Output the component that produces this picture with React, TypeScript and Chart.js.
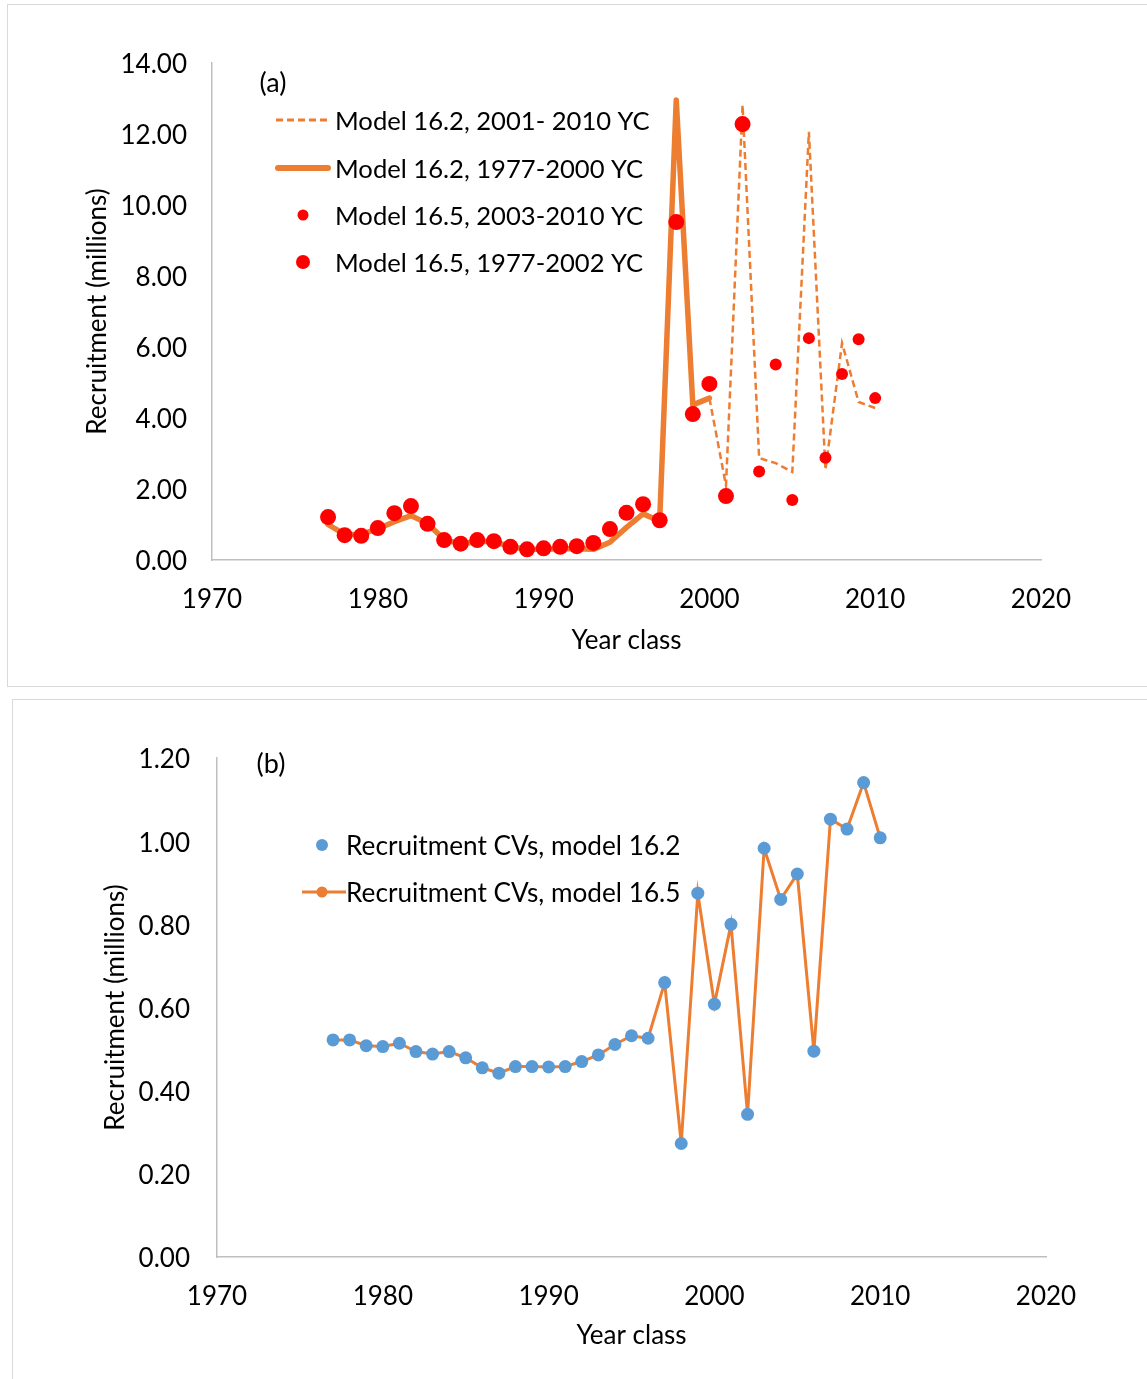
import React, { useEffect, useRef } from "react";
import { Chart, registerables } from "chart.js";

Chart.register(...registerables);

const FONT = "Lato, 'Open Sans', sans-serif";
const ORANGE = "#ED7D31";
const RED = "#FF0000";
const BLUE = "#5B9BD5";
const AXIS = "#BFBFBF";

// ---------- Panel (a) data ----------
const model162Years = [1977, 1978, 1979, 1980, 1981, 1982, 1983, 1984, 1985, 1986, 1987, 1988, 1989, 1990, 1991, 1992, 1993, 1994, 1995, 1996, 1997, 1998, 1999, 2000];
const model162Values = [1.0, 0.72, 0.72, 0.88, 1.08, 1.25, 1.03, 0.58, 0.45, 0.52, 0.52, 0.38, 0.3, 0.3, 0.32, 0.32, 0.3, 0.5, 0.92, 1.3, 1.1, 12.96, 4.37, 4.56];
const model162ProjYears = [2000, 2001, 2002, 2003, 2004, 2005, 2006, 2007, 2008, 2009, 2010];
const model162ProjValues = [4.56, 2.1, 12.82, 2.87, 2.73, 2.48, 12.06, 2.54, 6.11, 4.45, 4.28];
const model165EarlyYears = [1977, 1978, 1979, 1980, 1981, 1982, 1983, 1984, 1985, 1986, 1987, 1988, 1989, 1990, 1991, 1992, 1993, 1994, 1995, 1996, 1997, 1998, 1999, 2000, 2001, 2002];
const model165EarlyValues = [1.21, 0.7, 0.68, 0.9, 1.32, 1.52, 1.02, 0.56, 0.46, 0.56, 0.53, 0.37, 0.3, 0.33, 0.37, 0.39, 0.48, 0.87, 1.33, 1.57, 1.12, 9.52, 4.11, 4.96, 1.8, 12.28];
const model165LateYears = [2003, 2004, 2005, 2006, 2007, 2008, 2009, 2010];
const model165LateValues = [2.49, 5.51, 1.69, 6.25, 2.88, 5.24, 6.22, 4.56];

// ---------- Panel (b) data ----------
const cvYears = [1977, 1978, 1979, 1980, 1981, 1982, 1983, 1984, 1985, 1986, 1987, 1988, 1989, 1990, 1991, 1992, 1993, 1994, 1995, 1996, 1997, 1998, 1999, 2000, 2001, 2002, 2003, 2004, 2005, 2006, 2007, 2008, 2009, 2010];
const cvModel162 = [0.522, 0.522, 0.508, 0.506, 0.514, 0.494, 0.488, 0.494, 0.479, 0.455, 0.442, 0.458, 0.458, 0.457, 0.458, 0.47, 0.486, 0.511, 0.532, 0.526, 0.66, 0.273, 0.875, 0.608, 0.8, 0.343, 0.983, 0.86, 0.921, 0.495, 1.053, 1.029, 1.141, 1.008];
const cvModel165 = [0.522, 0.522, 0.508, 0.506, 0.514, 0.494, 0.488, 0.494, 0.479, 0.455, 0.442, 0.458, 0.458, 0.457, 0.458, 0.47, 0.486, 0.511, 0.532, 0.526, 0.66, 0.273, 0.875, 0.608, 0.8, 0.343, 0.983, 0.86, 0.921, 0.495, 1.053, 1.029, 1.141, 1.008];

// ---------- Axes ----------
const xMin = 1970;
const xMax = 2020;
const xStep = 10;
const yMaxA = 14;
const yStepA = 2;
const yMaxB = 1.2;
const yStepB = 0.2;
const xTitle = "Year class";
const yTitle = "Recruitment (millions)";

const pts = (xs: number[], ys: number[]) => xs.map((x, i) => ({ x, y: ys[i] }));

type LegendItem = { ds: number; kind: "line" | "point" | "linepoint"; y: number; x1: number; x2: number; px: number; r: number; lw?: number };
type Overlay = { label: string; lx: number; ly: number; textX: number; fontSize: number; items: LegendItem[] };

const overlayPlugin = (ov: Overlay) => ({
  id: "overlay",
  afterDraw(chart: any) {
    const ctx = chart.ctx;
    ctx.save();
    ctx.font = `${ov.fontSize}px ${FONT}`;
    ctx.fillStyle = "#000";
    ctx.textBaseline = "middle";
    ctx.textAlign = "center";
    ctx.font = `27px ${FONT}`;
    ctx.fillText(ov.label, ov.lx, ov.ly + 2);
    ctx.font = `${ov.fontSize}px ${FONT}`;
    ctx.textAlign = "left";
    for (const it of ov.items) {
      const ds = chart.data.datasets[it.ds];
      if (it.kind === "line" || it.kind === "linepoint") {
        ctx.save();
        ctx.strokeStyle = ds.borderColor;
        ctx.lineWidth = it.lw ?? ds.borderWidth;
        ctx.setLineDash(ds.borderDash || []);
        ctx.lineCap = ds.borderCapStyle || "butt";
        ctx.beginPath();
        ctx.moveTo(it.x1, it.y);
        ctx.lineTo(it.x2, it.y);
        ctx.stroke();
        ctx.restore();
      }
      if (it.kind === "point" || it.kind === "linepoint") {
        ctx.beginPath();
        ctx.fillStyle = ds.pointBackgroundColor;
        ctx.arc(it.px, it.y, it.r, 0, Math.PI * 2);
        ctx.fill();
      }
      ctx.fillStyle = "#000";
      ctx.fillText(ds.label, ov.textX, it.y + 2);
    }
    ctx.restore();
  },
});

function makeOptions(p: {
  yMax: number; yStep: number; yWidth: number; yTickPad: number; yTitlePad: number;
  xHeight: number; xTickPad: number; xTitlePad: number; padTop: number; padRight: number;
}) {
  const tickFont = { family: FONT, size: 26 };
  return {
    responsive: false,
    animation: false as const,
    devicePixelRatio: 1,
    layout: { padding: { top: p.padTop, right: p.padRight, left: 0, bottom: 0 } },
    plugins: { legend: { display: false }, tooltip: { enabled: false } },
    scales: {
      x: {
        type: "linear" as const,
        min: xMin,
        max: xMax,
        grid: { display: false, drawTicks: false },
        border: { display: true, color: AXIS, width: 1.5 },
        ticks: { stepSize: xStep, color: "#000", font: tickFont, padding: p.xTickPad, callback: (v: any) => String(v), maxRotation: 0 },
        title: { display: true, text: xTitle, color: "#000", font: tickFont, padding: { top: 0, bottom: p.xTitlePad } },
        afterFit: (s: any) => { s.height = p.xHeight; },
      },
      y: {
        type: "linear" as const,
        min: 0,
        max: p.yMax,
        grid: { display: false, drawTicks: false },
        border: { display: true, color: AXIS, width: 1.5 },
        ticks: { stepSize: p.yStep, color: "#000", font: tickFont, padding: p.yTickPad, labelOffset: 2, callback: (v: any) => Number(v).toFixed(2) },
        title: { display: true, text: yTitle, color: "#000", font: tickFont, padding: { top: p.yTitlePad, bottom: 0 } },
        afterFit: (s: any) => { s.width = p.yWidth; },
      },
    },
  };
}

function ChartA() {
  const ref = useRef<HTMLCanvasElement>(null);
  useEffect(() => {
    const chart = new Chart(ref.current!, {
      type: "line",
      data: {
        datasets: [
          { label: "Model 16.2, 2001- 2010 YC", data: pts(model162ProjYears, model162ProjValues), borderColor: ORANGE, borderWidth: 2.5, borderDash: [7, 4], pointRadius: 0, order: 2, tension: 0 },
          { label: "Model 16.2, 1977-2000 YC", data: pts(model162Years, model162Values), borderColor: ORANGE, borderWidth: 5.5, borderCapStyle: "round", borderJoinStyle: "round", pointRadius: 0, order: 1, tension: 0 },
          { label: "Model 16.5, 2003-2010 YC", data: pts(model165LateYears, model165LateValues), showLine: false, pointRadius: 6, pointBackgroundColor: RED, pointBorderWidth: 0, borderColor: RED, order: 0 },
          { label: "Model 16.5, 1977-2002 YC", data: pts(model165EarlyYears, model165EarlyValues), showLine: false, pointRadius: 8, pointBackgroundColor: RED, pointBorderWidth: 0, borderColor: RED, order: 0 },
        ] as any,
      },
      options: makeOptions({ yMax: yMaxA, yStep: yStepA, yWidth: 212, yTickPad: 25, yTitlePad: 82, xHeight: 130, xTickPad: 24, xTitlePad: 34, padTop: 63, padRight: 106 }) as any,
      plugins: [overlayPlugin({
        label: "(a)", lx: 273, ly: 81, textX: 335, fontSize: 25.6,
        items: [
          { ds: 0, kind: "line", y: 120, x1: 276, x2: 330, px: 303, r: 0, lw: 3 },
          { ds: 1, kind: "line", y: 168, x1: 278, x2: 328, px: 303, r: 0, lw: 6 },
          { ds: 2, kind: "point", y: 215, x1: 0, x2: 0, px: 303, r: 5.5 },
          { ds: 3, kind: "point", y: 262, x1: 0, x2: 0, px: 303, r: 7 },
        ],
      })],
    });
    return () => chart.destroy();
  }, []);
  return <canvas ref={ref} width={1147} height={690} style={{ position: "absolute", left: 0, top: 0 }} />;
}

function ChartB() {
  const ref = useRef<HTMLCanvasElement>(null);
  useEffect(() => {
    const chart = new Chart(ref.current!, {
      type: "line",
      data: {
        datasets: [
          { label: "Recruitment CVs, model 16.2", data: pts(cvYears, cvModel162), showLine: false, pointRadius: 6.5, pointBackgroundColor: BLUE, pointBorderWidth: 0, borderColor: BLUE, order: 0 },
          { label: "Recruitment CVs, model 16.5", data: pts(cvYears, cvModel165), borderColor: ORANGE, borderWidth: 3, pointRadius: 5, pointBackgroundColor: ORANGE, pointBorderWidth: 0, order: 1, tension: 0 },
        ] as any,
      },
      options: makeOptions({ yMax: yMaxB, yStep: yStepB, yWidth: 217, yTickPad: 27, yTitlePad: 100, xHeight: 122, xTickPad: 24, xTitlePad: 28, padTop: 68, padRight: 101 }) as any,
      plugins: [overlayPlugin({
        label: "(b)", lx: 271, ly: 72, textX: 346, fontSize: 26.2,
        items: [
          { ds: 0, kind: "point", y: 155, x1: 0, x2: 0, px: 322, r: 6 },
          { ds: 1, kind: "linepoint", y: 202, x1: 302, x2: 346, px: 322, r: 5.5 },
        ],
      })],
    });
    return () => chart.destroy();
  }, []);
  return <canvas ref={ref} width={1147} height={689} style={{ position: "absolute", left: 0, top: 690 }} />;
}

export default function App() {
  return (
    <div style={{ position: "absolute", left: 0, top: 0, width: 1147, height: 1379, overflow: "hidden", background: "#fff" }}>
      <div style={{ position: "absolute", left: 7, top: 4, width: 1200, height: 681, border: "1px solid #D9D9D9" }} />
      <div style={{ position: "absolute", left: 12, top: 699, width: 1200, height: 700, border: "1px solid #D9D9D9" }} />
      <ChartA />
      <ChartB />
    </div>
  );
}
